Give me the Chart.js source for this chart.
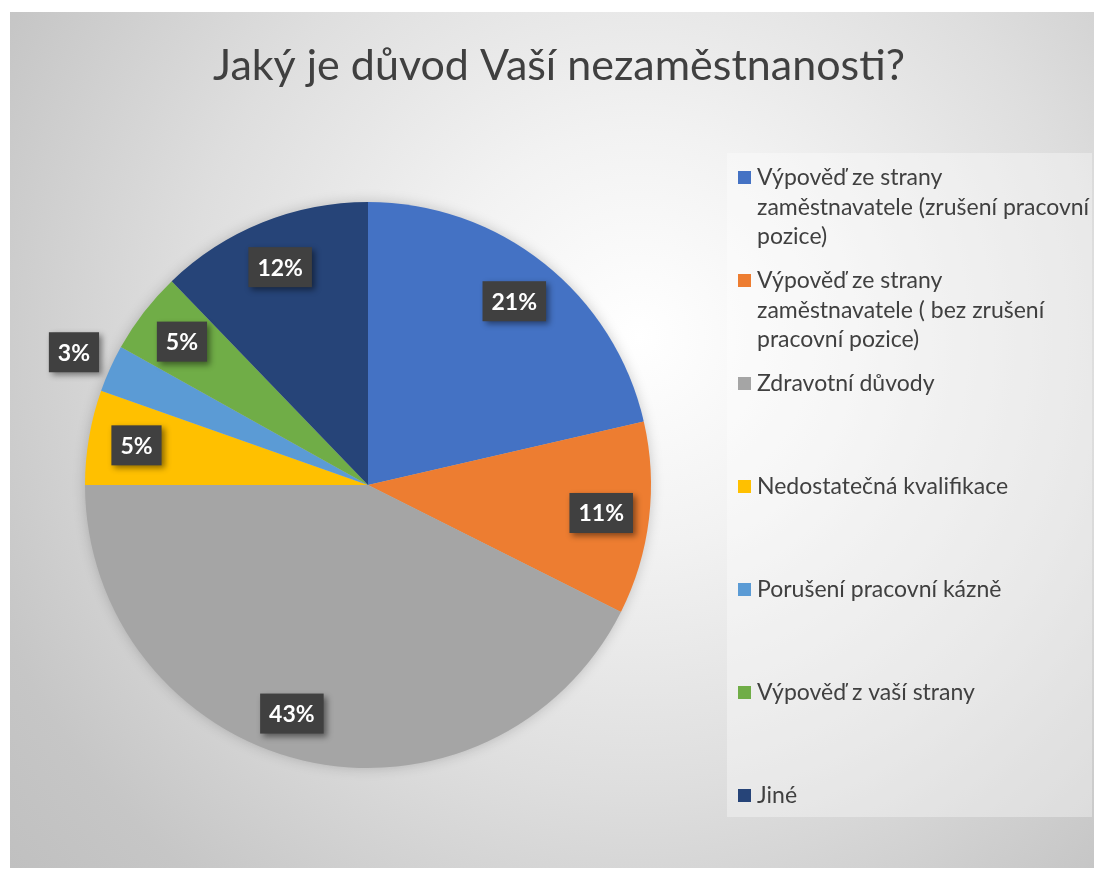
<!DOCTYPE html>
<html>
<head>
<meta charset="utf-8">
<script src="https://cdn.jsdelivr.net/npm/chart.js@4/dist/chart.umd.min.js"></script>
<style>
  body { margin: 0; background: #fff; }
  #frame {
    position: absolute; left: 10px; top: 12px; width: 1084px; height: 856px;
    background: radial-gradient(circle at 58% 38%, #ffffff 0%, #f2f2f2 25%, #dedede 55%, #c6c6c6 85%, #c0c0c0 100%);
  }
</style>
</head>
<body>
<div id="frame"><canvas id="chart"></canvas></div>
<script>
// ---------------------- DATA ------------------------
const TITLE = "Jaký je důvod Vaší nezaměstnanosti?";

const categories = [
  ["Výpověď ze strany", "zaměstnavatele (zrušení pracovní", "pozice)"],
  ["Výpověď ze strany", "zaměstnavatele ( bez zrušení", "pracovní pozice)"],
  ["Zdravotní důvody"],
  ["Nedostatečná kvalifikace"],
  ["Porušení pracovní kázně"],
  ["Výpověď z vaší strany"],
  ["Jiné"],
];

const shares = [21.4, 11.0, 42.6, 5.4, 2.7, 4.7, 12.2];

const colors = ["#4472C4", "#ED7D31", "#A5A5A5", "#FFC000", "#5B9BD5", "#70AD47", "#264478"];

const FONT = "Lato, 'Open Sans', sans-serif";
const TEXT_COLOR = "#404040";

// ---------------------- PLUGINS ------------------------
// soft shadow under the whole pie
const pieShadow = {
  id: "pieShadow",
  beforeDatasetsDraw(chart) {
    const arc = chart.getDatasetMeta(0).data[0];
    if (!arc) return;
    const ctx = chart.ctx;
    ctx.save();
    ctx.shadowColor = "rgba(0,0,0,0.22)";
    ctx.shadowBlur = 14;
    ctx.fillStyle = "#bbbbbb";
    ctx.beginPath();
    ctx.arc(arc.x, arc.y, arc.outerRadius - 1, 0, Math.PI * 2);
    ctx.fill();
    ctx.restore();
  },
};

// percent labels in dark boxes
const boxLabels = {
  id: "boxLabels",
  afterDatasetsDraw(chart) {
    const ctx = chart.ctx;
    const meta = chart.getDatasetMeta(0);
    const data = chart.data.datasets[0].data;
    const total = data.reduce((a, b) => a + b, 0);
    ctx.save();
    ctx.font = "bold 23px " + FONT;
    ctx.textAlign = "center";
    ctx.textBaseline = "middle";
    meta.data.forEach((arc, i) => {
      const pct = data[i] / total * 100;
      const mid = (arc.startAngle + arc.endAngle) / 2;
      // tiny slices get their label pushed outside, like Excel's best fit
      const dist = arc.outerRadius * (pct < 4 ? 1.14 : 0.83);
      let x = arc.x + Math.cos(mid) * dist;
      const y = arc.y + Math.sin(mid) * dist;
      if (pct > 40) x -= 22; // big bottom slice label sits a bit left
      const text = Math.round(pct) + "%";
      const w = ctx.measureText(text).width + 18;
      const h = 40;
      ctx.save();
      ctx.shadowColor = "rgba(0,0,0,0.45)";
      ctx.shadowBlur = 6;
      ctx.shadowOffsetX = 3;
      ctx.shadowOffsetY = 3;
      ctx.fillStyle = "#404040";
      ctx.fillRect(x - w / 2, y - h / 2, w, h);
      ctx.restore();
      ctx.fillStyle = "#ffffff";
      ctx.fillText(text, x, y + 1);
    });
    ctx.restore();
  },
};

// title + right side legend with wrapped labels
const titleAndLegend = {
  id: "titleAndLegend",
  afterDraw(chart) {
    const ctx = chart.ctx;
    ctx.save();
    ctx.fillStyle = TEXT_COLOR;
    ctx.font = "400 43px " + FONT;
    ctx.textAlign = "center";
    ctx.textBaseline = "middle";
    ctx.fillText(TITLE, 549, 54);

    // legend panel
    ctx.fillStyle = "rgba(255,255,255,0.35)";
    ctx.fillRect(717, 141, 365, 664);

    const meta = chart.getDatasetMeta(0);
    ctx.font = "23px " + FONT;
    ctx.textAlign = "left";
    chart.data.labels.forEach((lines, i) => {
      const y0 = 166 + i * 103;
      const style = meta.controller.getStyle(i);
      ctx.fillStyle = style.backgroundColor;
      ctx.fillRect(728, y0 - 7, 13, 13);
      ctx.fillStyle = TEXT_COLOR;
      lines.forEach((line, j) => {
        ctx.fillText(line, 747, y0 + j * 29.5);
      });
    });
    ctx.restore();
  },
};

// ---------------------- CHART ------------------------
new Chart(document.getElementById("chart"), {
  type: "pie",
  data: {
    labels: categories,
    datasets: [
      {
        data: shares,
        backgroundColor: colors,
        borderWidth: 0,
      },
    ],
  },
  options: {
    responsive: true,
    maintainAspectRatio: false,
    animation: false,
    layout: { padding: { left: 75, right: 443, top: 190, bottom: 100 } },
    plugins: {
      legend: { display: false },
      title: { display: false },
      tooltip: { enabled: false },
    },
  },
  plugins: [pieShadow, boxLabels, titleAndLegend],
});
</script>
</body>
</html>
